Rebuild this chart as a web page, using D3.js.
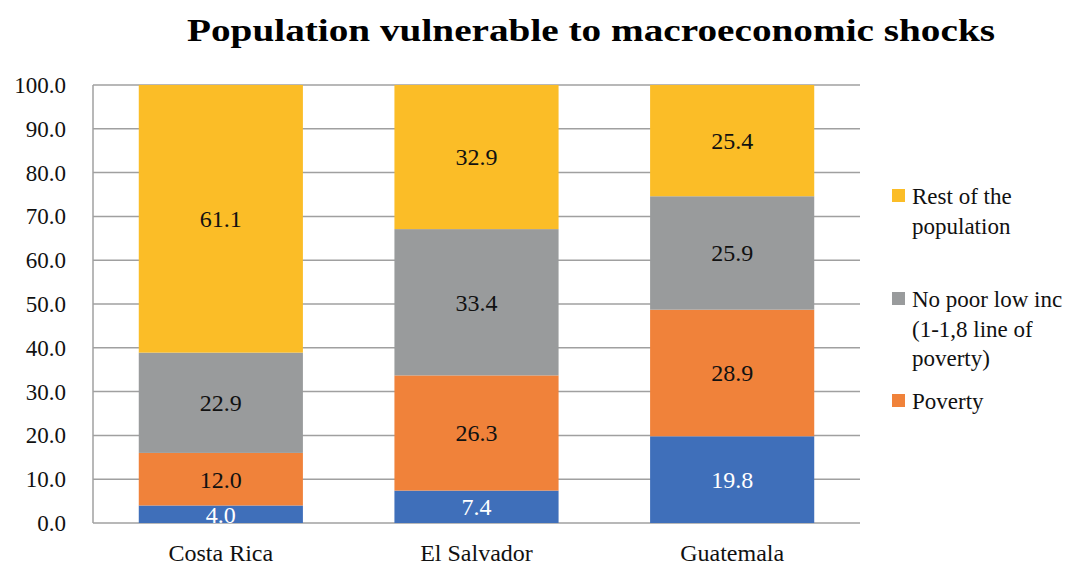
<!DOCTYPE html>
<html>
<head>
<meta charset="utf-8">
<script src="https://cdn.jsdelivr.net/npm/d3@7/dist/d3.min.js"></script>
<style>
  body { margin: 0; background: #fff; }
</style>
</head>
<body>
<div id="chart"></div>
<script>
// Chart data
var countries = ["Costa Rica", "El Salvador", "Guatemala"];
var seriesNames = ["Extreme poverty", "Poverty", "No poor low inc (1-1,8 line of poverty)", "Rest of the population"];
var extremePoverty = [4.0, 7.4, 19.8];
var poverty = [12.0, 26.3, 28.9];
var lowIncome = [22.9, 33.4, 25.9];
var restOfPopulation = [61.1, 32.9, 25.4];
var yTicks = [0, 10, 20, 30, 40, 50, 60, 70, 80, 90, 100];
var colors = ["#3f6fba", "#f0823a", "#999b9c", "#fbbd27"];
var labelColors = ["#ffffff", "#111111", "#111111", "#111111"];

// legend entries (top to bottom), index into series
var legendItems = [
  {series: 3, lines: ["Rest of the", "population"], y: 196},
  {series: 2, lines: ["No poor low inc", "(1-1,8 line of", "poverty)"], y: 299},
  {series: 1, lines: ["Poverty"], y: 401}
];

var serif = "'Liberation Serif', 'Times New Roman', Times, serif";

var width = 1078, height = 565;
var margin = {top: 85, right: 218, bottom: 42, left: 93};
var plotW = width - margin.left - margin.right,
    plotH = height - margin.top - margin.bottom;

// build rows for the stack
var rows = countries.map(function(c, i) {
  return {country: c, s0: extremePoverty[i], s1: poverty[i], s2: lowIncome[i], s3: restOfPopulation[i]};
});
var stacked = d3.stack().keys(["s0", "s1", "s2", "s3"])(rows);

var x = d3.scaleBand().domain(countries).range([0, plotW])
    .paddingInner(0.358).paddingOuter(0.179);
var y = d3.scaleLinear().domain([0, 100]).range([plotH, 0]);

var svg = d3.select("#chart").append("svg")
    .attr("width", width).attr("height", height)
    .attr("font-family", serif);

// Title
svg.append("text")
    .attr("x", 591).attr("y", 41)
    .attr("text-anchor", "middle")
    .attr("textLength", 808).attr("lengthAdjust", "spacingAndGlyphs")
    .style("font-size", "31px").style("font-weight", "bold")
    .style("fill", "#000")
    .text("Population vulnerable to macroeconomic shocks");

var g = svg.append("g")
    .attr("transform", "translate(" + margin.left + "," + margin.top + ")");

// Gridlines
g.selectAll(".grid").data(yTicks).enter().append("line")
    .attr("x1", 0).attr("x2", plotW)
    .attr("y1", function(d) { return y(d); })
    .attr("y2", function(d) { return y(d); })
    .style("stroke", "#a0a0a0").style("stroke-width", 1.5);

// Left axis line
g.append("line")
    .attr("x1", 0).attr("x2", 0).attr("y1", 0).attr("y2", plotH)
    .style("stroke", "#a0a0a0").style("stroke-width", 1.5);

// Bars
var layers = g.selectAll(".layer").data(stacked).enter().append("g")
    .style("fill", function(d, i) { return colors[i]; });

layers.selectAll("rect").data(function(d) { return d; }).enter().append("rect")
    .attr("x", function(d) { return x(d.data.country); })
    .attr("width", x.bandwidth())
    .attr("y", function(d) { return y(d[1]); })
    .attr("height", function(d) { return y(d[0]) - y(d[1]); });

// Data labels
layers.each(function(layer, i) {
  d3.select(this).selectAll("text").data(layer).enter().append("text")
      .attr("x", function(d) { return x(d.data.country) + x.bandwidth() / 2; })
      .attr("y", function(d) { return (y(d[0]) + y(d[1])) / 2; })
      .attr("dy", "0.35em")
      .attr("text-anchor", "middle")
      .style("font-size", "24px")
      .style("fill", labelColors[i])
      .text(function(d) { return (d[1] - d[0]).toFixed(1); });
});

// Y axis labels
g.selectAll(".ylab").data(yTicks).enter().append("text")
    .attr("x", -27).attr("y", function(d) { return y(d); })
    .attr("dy", "0.35em")
    .attr("text-anchor", "end")
    .style("font-size", "23px").style("fill", "#111")
    .text(function(d) { return d.toFixed(1); });

// X axis labels
g.selectAll(".xlab").data(countries).enter().append("text")
    .attr("x", function(d) { return x(d) + x.bandwidth() / 2; })
    .attr("y", plotH + 38)
    .attr("text-anchor", "middle")
    .style("font-size", "24px").style("fill", "#111")
    .text(function(d) { return d; });

// Legend
var legend = svg.selectAll(".legend").data(legendItems).enter().append("g");
legend.append("rect")
    .attr("x", 892).attr("y", function(d) { return d.y - 7; })
    .attr("width", 13).attr("height", 13)
    .style("fill", function(d) { return colors[d.series]; });
legend.each(function(d) {
  var t = d3.select(this).append("text")
      .attr("x", 912).attr("y", d.y)
      .style("font-size", "23px").style("fill", "#111");
  d.lines.forEach(function(line, j) {
    t.append("tspan").attr("x", 912).attr("dy", j === 0 ? "0.35em" : "29.5px").text(line);
  });
});
</script>
</body>
</html>
